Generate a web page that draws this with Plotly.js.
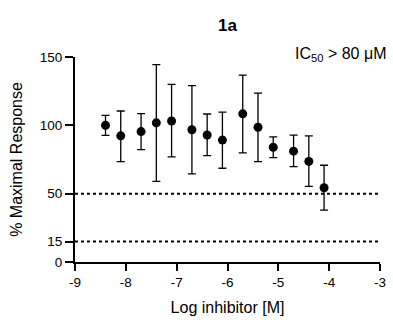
<!DOCTYPE html>
<html>
<head>
<meta charset="utf-8">
<script src="https://cdn.plot.ly/plotly-3.0.1.min.js"></script>
<style>html,body{margin:0;padding:0;background:#fff;}#chart{width:393px;height:320px;}</style>
</head>
<body>
<div id="chart"></div>
<script>
const logX = [-8.4, -8.1, -7.7, -7.4, -7.1, -6.7, -6.4, -6.1, -5.7, -5.4, -5.1, -4.7, -4.4, -4.1];
const response = [100.0, 92.3, 95.4, 101.8, 103.2, 96.8, 92.9, 89.2, 108.4, 98.6, 84.0, 81.1, 73.6, 54.3];
const errPlus = [7.3, 18.2, 13.2, 42.6, 26.8, 32.2, 15.4, 20.4, 28.3, 24.9, 7.6, 11.7, 18.7, 16.5];
const errMinus = [7.3, 18.9, 13.2, 42.8, 26.3, 32.3, 15.1, 20.6, 28.5, 25.2, 7.6, 11.3, 18.3, 16.4];
const refLines = [50, 15];
const xTicks = [-9, -8, -7, -6, -5, -4, -3];
const yTicks = [0, 15, 50, 100, 150];
const titleText = '<b>1a</b>';
const noteText = 'IC<sub>50</sub> > 80 μM';
const xTitle = 'Log inhibitor [M]';
const yTitle = '% Maximal Response';

const font = 'Liberation Sans, Arial, sans-serif';

const trace = {
  x: logX,
  y: response,
  type: 'scatter',
  mode: 'markers',
  marker: {color: '#000', size: 9},
  error_y: {type: 'data', symmetric: false, array: errPlus, arrayminus: errMinus,
            color: '#000', thickness: 1.3, width: 4},
  showlegend: false,
  cliponaxis: false
};

const shapes = refLines.map(v => ({
  type: 'line', xref: 'paper', x0: 0, x1: 1, yref: 'y', y0: v, y1: v,
  line: {color: '#000', width: 2, dash: 'dot'}
}));

const layout = {
  width: 393, height: 320,
  margin: {l: 75, r: 13, t: 57, b: 58},
  paper_bgcolor: '#fff', plot_bgcolor: '#fff',
  font: {family: font, color: '#000', size: 13.5},
  title: {text: titleText, font: {family: font, size: 17, color: '#000'},
          x: (75 + 380) / 2 / 393, xanchor: 'center', y: 1 - 25.5 / 320, yanchor: 'middle', yref: 'container'},
  xaxis: {
    range: [-9, -3], tickvals: xTicks, ticktext: xTicks.map(String),
    showgrid: false, zeroline: false, showline: true, linecolor: '#000', linewidth: 2,
    ticks: 'outside', ticklen: 7, tickwidth: 2, tickcolor: '#000',
    tickfont: {size: 13.5, family: font},
    title: {text: xTitle, font: {size: 16, family: font}, standoff: 13}
  },
  yaxis: {
    range: [0, 150], tickvals: yTicks, ticktext: yTicks.map(String),
    showgrid: false, zeroline: false, showline: true, linecolor: '#000', linewidth: 2,
    ticks: 'outside', ticklen: 8, tickwidth: 2, tickcolor: '#000',
    tickfont: {size: 13.5, family: font},
    title: {text: yTitle, font: {size: 16, family: font}, standoff: 13}
  },
  shapes: shapes,
  annotations: [{
    text: noteText, xref: 'paper', yref: 'paper', x: 1.026, y: 1.01,
    xanchor: 'right', yanchor: 'middle', showarrow: false,
    font: {size: 16, family: font, color: '#000'}
  }]
};

Plotly.newPlot('chart', [trace], layout, {displayModeBar: false, staticPlot: true});
</script>
</body>
</html>
